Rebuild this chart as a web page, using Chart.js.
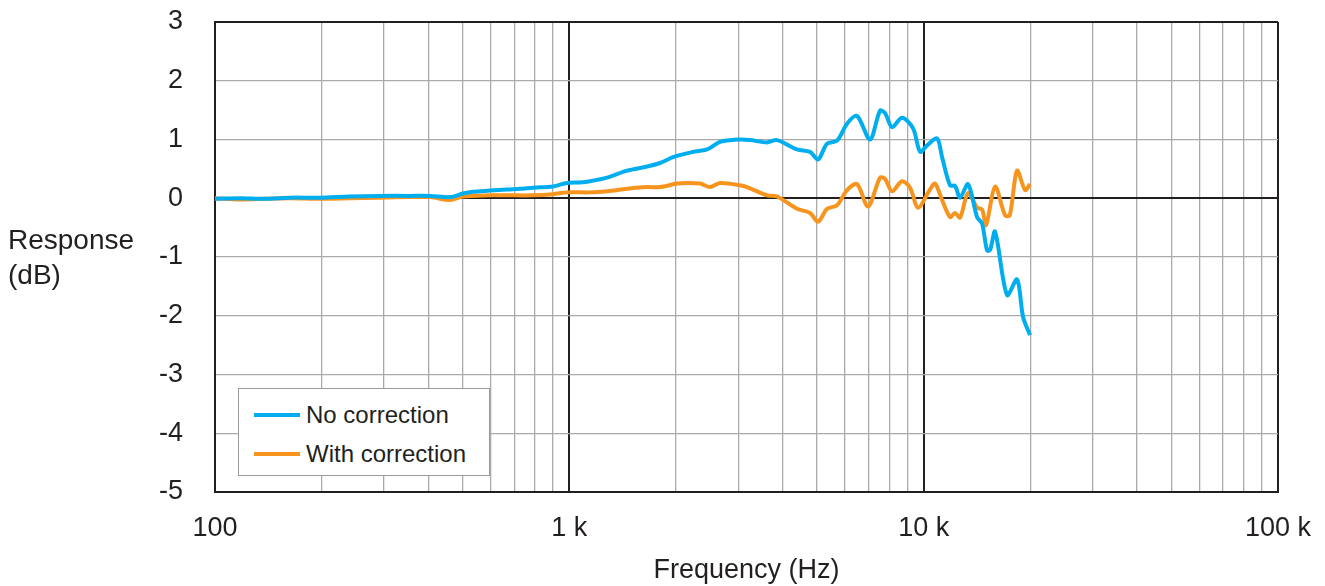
<!DOCTYPE html>
<html>
<head>
<meta charset="utf-8">
<script src="https://cdn.jsdelivr.net/npm/chart.js@4"></script>
<style>
  html, body { margin: 0; padding: 0; background: #fff; }
  #wrap { position: relative; width: 1325px; height: 586px; }
  #legend {
    position: absolute; background: #fff; border: 1px solid #9a9a9a;
    box-sizing: border-box; font-family: "Liberation Sans", Arial, sans-serif;
    font-size: 24px; color: #231f20; padding-top: 6px;
  }
  .row { display: flex; align-items: center; height: 39px; }
  .swatch { width: 46px; height: 4px; margin-left: 15px; margin-right: 6px; }
</style>
</head>
<body>
<div id="wrap">
  <canvas id="chart" width="1325" height="586"></canvas>
  <div id="legend"></div>
</div>
<script>
// Frequency response
const noCorrFreq = [100, 118, 138, 163, 198, 240, 292, 355, 405, 461, 501, 535, 597, 667, 726, 790, 900, 985,
  1072, 1144, 1278, 1455, 1657, 1803, 1962, 2234, 2447, 2663, 3033, 3236, 3614, 3857, 4392, 4779, 5035,
  5339, 5696, 6079, 6486, 7057, 7531, 7780, 8142, 8690, 9336, 9768, 10223, 10909, 11270, 11870, 12263,
  12668, 13345, 14148, 14616, 15098, 15396, 15905, 17196, 18348, 19078, 19966];
const noCorrDb = [-0.01, 0.0, -0.01, 0.01, 0.01, 0.03, 0.04, 0.04, 0.04, 0.02, 0.08, 0.11, 0.13, 0.15, 0.16, 0.18, 0.2, 0.26,
  0.27, 0.29, 0.35, 0.47, 0.54, 0.6, 0.7, 0.79, 0.83, 0.96, 1.0, 0.99, 0.95, 0.99, 0.83, 0.79, 0.66,
  0.93, 0.98, 1.27, 1.4, 1.0, 1.49, 1.45, 1.21, 1.37, 1.19, 0.79, 0.9, 1.02, 0.7, 0.22, 0.21,
  0.01, 0.24, -0.32, -0.43, -0.89, -0.88, -0.57, -1.65, -1.38, -2.02, -2.33];

const withCorrFreq = [100, 118, 138, 163, 198, 240, 292, 355, 405, 461, 501, 597, 667, 790, 900, 985, 1144, 1278,
  1455, 1657, 1803, 2014, 2149, 2338, 2495, 2663, 3033, 3236, 3614, 3857, 4392, 4779, 5035, 5339, 5696,
  6079, 6486, 6967, 7531, 7780, 8142, 8690, 9155, 9643, 10424, 10770, 11270, 11870, 12263, 12668, 13345,
  14148, 14616, 15001, 15905, 16974, 17500, 18348, 19328, 19966];
const withCorrDb = [0.0, -0.02, -0.01, 0.0, -0.01, 0.0, 0.01, 0.02, 0.02, -0.03, 0.03, 0.05, 0.05, 0.05, 0.07, 0.1, 0.1, 0.12,
  0.16, 0.19, 0.19, 0.25, 0.26, 0.25, 0.19, 0.26, 0.22, 0.17, 0.05, 0.03, -0.18, -0.25, -0.4, -0.18, -0.12,
  0.14, 0.24, -0.14, 0.35, 0.33, 0.12, 0.29, 0.18, -0.16, 0.15, 0.25, -0.03, -0.32, -0.25, -0.33, 0.09,
  -0.16, -0.19, -0.46, 0.2, -0.29, -0.29, 0.47, 0.14, 0.24];

const xTickValues = [100, 200, 300, 400, 500, 600, 700, 800, 900,
  1000, 2000, 3000, 4000, 5000, 6000, 7000, 8000, 9000,
  10000, 20000, 30000, 40000, 50000, 60000, 70000, 80000, 90000, 100000];
const xTickLabels = { 100: '100', 1000: '1 k', 10000: '10 k', 100000: '100 k' };
const yMin = -5, yMax = 3;

const BLUE = '#00aeef';
const ORANGE = '#f7941d';
const TEXT = '#231f20';
const FONT = '"Liberation Sans", Arial, sans-serif';

Chart.defaults.animation = false;
Chart.defaults.font.family = FONT;
Chart.defaults.color = TEXT;

function toPoints(freqs, vals) {
  return freqs.map((f, i) => ({ x: f, y: vals[i] }));
}

const yTitlePlugin = {
  id: 'yTitle',
  afterDraw(chart) {
    const ctx = chart.ctx;
    const mid = (chart.chartArea.top + chart.chartArea.bottom) / 2;
    ctx.save();
    ctx.font = '28px ' + FONT;
    ctx.fillStyle = TEXT;
    ctx.textAlign = 'left';
    ctx.textBaseline = 'middle';
    ctx.fillText('Response', 8, mid - 16);
    ctx.fillText('(dB)', 8, mid + 19);
    ctx.restore();
  }
};

const chart = new Chart(document.getElementById('chart'), {
  type: 'line',
  data: {
    datasets: [
      { label: 'No correction', data: toPoints(noCorrFreq, noCorrDb), borderColor: BLUE,
        borderWidth: 4, pointRadius: 0, tension: 0.3 },
      { label: 'With correction', data: toPoints(withCorrFreq, withCorrDb), borderColor: ORANGE,
        borderWidth: 4, pointRadius: 0, tension: 0.3 }
    ]
  },
  options: {
    responsive: false,
    layout: { padding: { top: 22, right: 47, left: 0, bottom: 0 } },
    plugins: { legend: { display: false }, tooltip: { enabled: false } },
    scales: {
      x: {
        type: 'logarithmic',
        min: 100, max: 100000,
        afterBuildTicks: scale => { scale.ticks = xTickValues.map(v => ({ value: v })); },
        afterFit: scale => {
          scale.height = 94;
          scale.paddingLeft = 0;
          scale.paddingRight = 0;
        },
        ticks: {
          autoSkip: false, maxRotation: 0, padding: 20,
          font: { size: 27 }, color: TEXT,
          callback: v => xTickLabels[v] || ''
        },
        grid: {
          drawTicks: false,
          color: c => xTickLabels[c.tick.value] ? '#231f20' : '#aaaaaa',
          lineWidth: c => xTickLabels[c.tick.value] ? 2 : 1.3
        },
        border: { color: '#231f20', width: 2 },
        title: { display: true, text: 'Frequency (Hz)', font: { size: 27 }, color: TEXT,
          padding: { top: 4, bottom: -1 } }
      },
      y: {
        min: yMin, max: yMax,
        afterFit: scale => {
          scale.width = 215;
          scale.paddingTop = 0;
          scale.paddingBottom = 0;
        },
        ticks: { stepSize: 1, padding: 32, font: { size: 27 }, color: TEXT },
        grid: {
          drawTicks: false,
          color: c => [yMin, 0, yMax].includes(c.tick.value) ? '#231f20' : '#aaaaaa',
          lineWidth: c => [yMin, 0, yMax].includes(c.tick.value) ? 2 : 1.3
        },
        border: { color: '#231f20', width: 2 }
      }
    }
  },
  plugins: [yTitlePlugin]
});

// legend box inside the plot, bottom-left
function buildLegend(chart) {
  const box = document.getElementById('legend');
  const area = chart.chartArea;
  box.style.left = (area.left + 23) + 'px';
  box.style.top = (area.top + 366) + 'px';
  box.style.width = '252px';
  box.style.height = '88px';
  chart.data.datasets.forEach(ds => {
    const row = document.createElement('div');
    row.className = 'row';
    row.innerHTML = `<span class="swatch" style="background:${ds.borderColor}"></span><span>${ds.label}</span>`;
    box.appendChild(row);
  });
}
buildLegend(chart);
</script>
</body>
</html>
